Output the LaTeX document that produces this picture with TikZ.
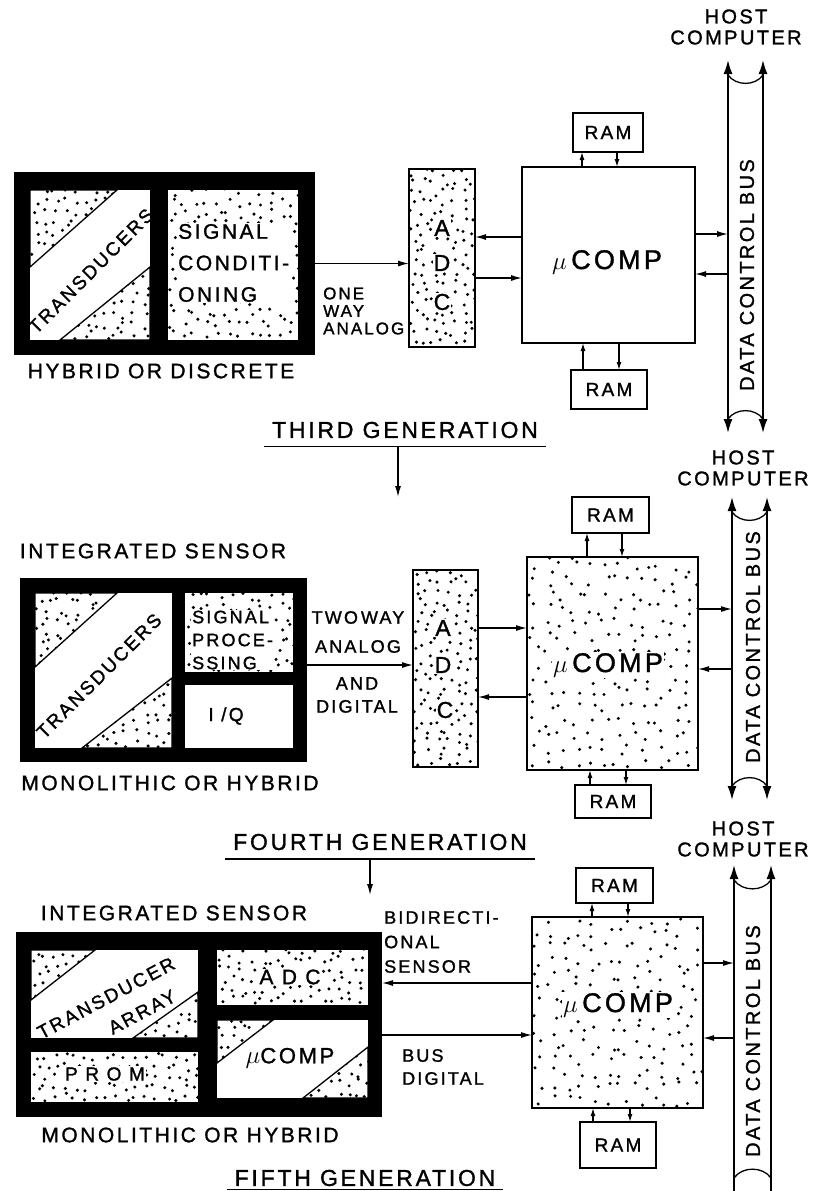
\documentclass[tikz,border=0pt]{standalone}
\usepackage{fontspec}
\usepackage{tikz}
\usetikzlibrary{arrows.meta}
\newfontfamily\lettering[LetterSpace=12,FakeBold=1.3]{Liberation Sans}
\newcommand{\speckle}[1]{%
  \pgfpointanchor{path picture bounding box}{south west}%
  \pgfgetlastxy{\spxa}{\spya}%
  \pgfpointanchor{path picture bounding box}{north east}%
  \pgfgetlastxy{\spxb}{\spyb}%
  \pgfmathtruncatemacro{\spnx}{(\spxb-\spxa)/#1}%
  \pgfmathtruncatemacro{\spny}{(\spyb-\spya)/#1}%
  \foreach \i in {0,...,\spnx}{%
    \foreach \j in {0,...,\spny}{%
      \pgfmathsetmacro{\spx}{\spxa+(\i+0.1+0.8*rnd)*#1}%
      \pgfmathsetmacro{\spy}{\spya+(\j+0.1+0.8*rnd)*#1}%
      \fill[black] (\spx pt,\spy pt) circle[radius=1.7pt];%
    }%
  }%
}
\newcommand{\bigmu}{{\fontsize{33}{33}\selectfont$\mu$}}

\begin{document}
\begin{tikzpicture}[x=1pt, y=-1pt,
  housing/.style={fill=black, inner sep=0pt, outer sep=0pt},
  cell/.style={fill=white, inner sep=0pt, outer sep=0pt},
  unit/.style={draw, line width=1.6pt, fill=white, inner sep=0pt, outer sep=0pt},
  stip/.style={path picture={\speckle{#1}}},
  tri/.style={draw, line width=1.3pt},
  lbl/.style={inner sep=1pt, align=center, font=\lettering\fontsize{21}{24}\selectfont},
  title/.style={inner xsep=8pt, inner ysep=8.5pt, font=\lettering\fontsize{23}{26}\selectfont},
  note/.style={inner sep=0pt, align=center, font=\lettering\fontsize{18}{24}\selectfont},
  tdtext/.style={inner sep=0pt, font=\lettering\fontsize{19}{20}\selectfont},
  onstip/.style={fill=white, inner sep=1pt},
  letter/.style={onstip, font=\lettering\fontsize{23}{24}\selectfont},
  comp/.style={inner sep=1pt, font=\lettering\fontsize{27}{30}\selectfont},
  ramtext/.style={font=\lettering\fontsize{19}{20}\selectfont},
  host/.style={lbl, font=\lettering\fontsize{20}{21}\selectfont},
  buslbl/.style={rotate=90, inner sep=0pt, font=\lettering\fontsize{20}{22}\selectfont},
  busbox/.style={inner sep=0pt, outer sep=0pt},
  arr/.style={-{Latex[length=11pt,width=6pt]}, line width=1.3pt},
  ramarr/.style={-{Latex[length=8pt,width=5pt]}, line width=1.3pt},
  busline/.style={{Latex[length=14pt,width=9pt]}-{Latex[length=14pt,width=9pt]}, line width=1.6pt},
  curve/.style={line width=1.3pt}
]
  \pgfmathsetseed{5}
  \useasboundingbox (0,0) rectangle (812,1191);

  % third generation
  \node[housing, minimum width=301, minimum height=183] (frame1) at (164.5,263.5) {};
  \node[cell, minimum width=120, minimum height=150] (td1) at (90,265) {};
  \node[cell, stip=11, minimum width=130, minimum height=150] (sc1) at (233,265) {};
  \draw[tri, stip=10] (30,190) -- (117,190) -- (30,267) -- cycle;
  \draw[tri, stip=10] (60,340) -- (150,267) -- (150,340) -- cycle;
  \node[tdtext, rotate=45] (td1t) at (91,271) {TRANSDUCERS};
  \node[onstip, align=left, anchor=west, font=\lettering\fontsize{21}{31.5}\selectfont] (sc1t) at (177,263) {SIGNAL\\CONDITI-\\ONING};
  \node[lbl] (hyb1) at (161,371) {HYBRID OR DISCRETE};
  \node[unit, stip=10, minimum width=66, minimum height=178] (adc1) at (442,258) {};
  \node[letter] (adc1a) at (442,228) {A};
  \node[letter] (adc1d) at (442,263) {D};
  \node[letter] (adc1c) at (442,302) {C};
  \node[unit, minimum width=173, minimum height=176] (mc1) at (608.5,255) {};
  \node[comp] (mc1t) at (607,262) {\bigmu\,COMP};
  \node[unit, ramtext, minimum width=70, minimum height=39] (ramt1) at (608,132.5) {RAM};
  \node[unit, ramtext, minimum width=76, minimum height=39] (ramb1) at (609,389.5) {RAM};
  \node[busbox, minimum width=35, minimum height=373] (bus1) at (745.5,246.5) {};
  \node[buslbl] (bus1t) at (747,275) {DATA CONTROL BUS};
  \node[host] (host1) at (736,27) {HOST\\COMPUTER};
  \node[note, align=left, anchor=west, font=\lettering\fontsize{17}{17.5}\selectfont] (ow1) at (323,311) {ONE\\WAY\\ANALOG};
  \node[title] (gen1) at (405,430) {THIRD GENERATION};
  \coordinate (g1) at (398,497);

  \draw[arr] (frame1.east) -- (frame1.east -| adc1.west);
  \draw[arr] ([yshift=18]mc1.west) -- ([yshift=18]mc1.west -| adc1.east);
  \draw[arr] ([yshift=-23]mc1.west -| adc1.east) -- ([yshift=-23]mc1.west);
  \draw[arr] ([yshift=21]mc1.east) -- ([yshift=21]mc1.east -| bus1.west);
  \draw[arr] ([yshift=-19]mc1.east -| bus1.west) -- ([yshift=-19]mc1.east);
  \draw[ramarr] ([xshift=-26]ramt1.south |- mc1.north) -- ([xshift=-26]ramt1.south);
  \draw[ramarr] ([xshift=9]ramt1.south) -- ([xshift=9]ramt1.south |- mc1.north);
  \draw[ramarr] ([xshift=-26]ramb1.north) -- ([xshift=-26]ramb1.north |- mc1.south);
  \draw[ramarr] ([xshift=10]ramb1.north |- mc1.south) -- ([xshift=10]ramb1.north);
  \draw[busline] (bus1.south west) -- (bus1.north west);
  \draw[busline] (bus1.south east) -- (bus1.north east);
  \draw[curve] ([yshift=-15]bus1.north west) to[out=-55,in=-125] ([yshift=-15]bus1.north east);
  \draw[curve] ([yshift=14]bus1.south west) to[out=55,in=125] ([yshift=14]bus1.south east);
  \draw[curve] (gen1.south west) -- (gen1.south east);
  \draw[arr] (gen1.south -| g1) -- (g1);

  % fourth generation
  \node[lbl] (int2) at (153,551) {INTEGRATED SENSOR};
  \node[housing, minimum width=287, minimum height=184] (frame2) at (163.5,670) {};
  \node[cell, minimum width=137, minimum height=155] (td2) at (103.5,670.5) {};
  \node[cell, stip=10, minimum width=108, minimum height=79] (sp2) at (239,632.5) {};
  \node[cell, minimum width=108, minimum height=63] (iq2) at (239,716.5) {};
  \draw[tri, stip=10] (35,593) -- (117,593) -- (35,667) -- cycle;
  \draw[tri, stip=10] (82,748) -- (172,678) -- (172,748) -- cycle;
  \node[tdtext, rotate=45] (td2t) at (99,676) {TRANSDUCERS};
  \node[onstip, align=left, anchor=west, font=\lettering\fontsize{18}{23}\selectfont] (sp2t) at (191,640) {SIGNAL\\PROCE-\\SSING};
  \node[tdtext] (iq2t) at (226,716) {I /Q};
  \node[lbl] (mono2) at (170,783) {MONOLITHIC OR HYBRID};
  \node[unit, stip=10, minimum width=65, minimum height=197] (adc2) at (445.5,668.5) {};
  \node[letter] (adc2a) at (443,628) {A};
  \node[letter] (adc2d) at (443,665) {D};
  \node[letter] (adc2c) at (445,710) {C};
  \node[unit, stip=14, minimum width=171, minimum height=213] (mc2) at (612.5,663.5) {};
  \node[comp, onstip] (mc2t) at (608,665) {\bigmu\,COMP};
  \node[unit, ramtext, minimum width=77, minimum height=36] (ramt2) at (610.5,515) {RAM};
  \node[unit, ramtext, minimum width=76, minimum height=33] (ramb2) at (613,801.5) {RAM};
  \node[busbox, minimum width=35, minimum height=303] (bus2) at (749.5,648.5) {};
  \node[buslbl] (bus2t) at (753,647) {DATA CONTROL BUS};
  \node[host] (host2) at (743,468) {HOST\\COMPUTER};
  \node[note, font=\lettering\fontsize{18}{29}\selectfont] (tw2) at (358,632) {TWO\,WAY\\ANALOG};
  \node[note, font=\lettering\fontsize{18}{23}\selectfont] (ad2) at (357,695) {AND\\DIGITAL};
  \node[title] (gen2) at (380,842) {FOURTH GENERATION};
  \coordinate (g2) at (370,895);

  \draw[arr] ([yshift=5]frame2.east) -- ([yshift=5]frame2.east -| adc2.west);
  \draw[arr] ([yshift=35.5]mc2.west -| adc2.east) -- ([yshift=35.5]mc2.west);
  \draw[arr] ([yshift=-33.5]mc2.west) -- ([yshift=-33.5]mc2.west -| adc2.east);
  \draw[arr] ([yshift=54.5]mc2.east) -- ([yshift=54.5]mc2.east -| bus2.west);
  \draw[arr] ([yshift=-5.5]mc2.east -| bus2.west) -- ([yshift=-5.5]mc2.east);
  \draw[ramarr] ([xshift=-23.5]ramt2.south |- mc2.north) -- ([xshift=-23.5]ramt2.south);
  \draw[ramarr] ([xshift=11.5]ramt2.south) -- ([xshift=11.5]ramt2.south |- mc2.north);
  \draw[ramarr] ([xshift=-23]ramb2.north) -- ([xshift=-23]ramb2.north |- mc2.south);
  \draw[ramarr] ([xshift=13]ramb2.north |- mc2.south) -- ([xshift=13]ramb2.north);
  \draw[busline] (bus2.south west) -- (bus2.north west);
  \draw[busline] (bus2.south east) -- (bus2.north east);
  \draw[curve] ([yshift=-15]bus2.north west) to[out=-55,in=-125] ([yshift=-15]bus2.north east);
  \draw[curve] ([yshift=14]bus2.south west) to[out=55,in=125] ([yshift=14]bus2.south east);
  \draw[curve] (gen2.south west) -- (gen2.south east);
  \draw[arr] (gen2.south -| g2) -- (g2);

  % fifth generation
  \node[lbl] (int3) at (174,913) {INTEGRATED SENSOR};
  \node[housing, minimum width=366, minimum height=185] (frame3) at (199,1024.5) {};
  \node[cell, minimum width=167, minimum height=88] (ta3) at (114.5,994) {};
  \node[cell, stip=10, minimum width=167, minimum height=50] (prom3) at (114.5,1077) {};
  \node[cell, stip=10, minimum width=151, minimum height=55] (adc3) at (292.5,977.5) {};
  \node[cell, minimum width=151, minimum height=78] (mcc3) at (292.5,1059) {};
  \draw[tri, stip=10] (31,950) -- (95,950) -- (31,1000) -- cycle;
  \draw[tri, stip=10] (133,1038) -- (198,992) -- (198,1038) -- cycle;
  \draw[tri, stip=10] (217,1020) -- (273,1020) -- (217,1063) -- cycle;
  \draw[tri, stip=10] (303,1098) -- (368,1047) -- (368,1098) -- cycle;
  \node[tdtext, rotate=28] (ta3t) at (106,998) {TRANSDUCER};
  \node[tdtext, rotate=28] (ta3u) at (142,1012) {ARRAY};
  \node[tdtext, onstip] (prom3t) at (105,1074) {P R O M};
  \node[tdtext, onstip, font=\lettering\fontsize{21}{22}\selectfont] (adc3t) at (290,977) {A D C};
  \node[tdtext, font=\lettering\fontsize{22}{24}\selectfont] (mcc3t) at (290,1058) {\bigmu COMP};
  \node[lbl] (mono3) at (190,1135) {MONOLITHIC OR HYBRID};
  \node[unit, stip=14, minimum width=171, minimum height=191] (mc3) at (617.5,1012.5) {};
  \node[comp, onstip] (mc3t) at (618,1005) {\bigmu\,COMP};
  \node[unit, ramtext, minimum width=77, minimum height=35] (ramt3) at (614.5,885.5) {RAM};
  \node[unit, ramtext, minimum width=76, minimum height=46] (ramb3) at (618,1145) {RAM};
  \node[busbox, minimum width=37, minimum height=340] (bus3) at (752.5,1035) {};
  \node[buslbl] (bus3t) at (753,1041) {DATA CONTROL BUS};
  \node[host] (host3) at (743,839) {HOST\\COMPUTER};
  \node[note, align=left, anchor=west, font=\lettering\fontsize{18}{24.5}\selectfont] (bd3) at (384,942) {BIDIRECTI-\\ONAL\\SENSOR};
  \node[note, align=left, anchor=west, font=\lettering\fontsize{18}{23}\selectfont] (bg3) at (402,1067) {BUS\\DIGITAL};
  \node[title, inner ysep=3pt] (gen3) at (365,1178) {FIFTH GENERATION};

  \draw[arr] ([yshift=29.5]mc3.west) -- ([yshift=29.5]mc3.west -| frame3.east);
  \draw[arr] ([yshift=-22.5]mc3.west -| frame3.east) -- ([yshift=-22.5]mc3.west);
  \draw[arr] ([yshift=49.5]mc3.east) -- ([yshift=49.5]mc3.east -| bus3.west);
  \draw[arr] ([yshift=-25.5]mc3.east -| bus3.west) -- ([yshift=-25.5]mc3.east);
  \draw[ramarr] ([xshift=-22.5]ramt3.south |- mc3.north) -- ([xshift=-22.5]ramt3.south);
  \draw[ramarr] ([xshift=13.5]ramt3.south) -- ([xshift=13.5]ramt3.south |- mc3.north);
  \draw[ramarr] ([xshift=-25]ramb3.north) -- ([xshift=-25]ramb3.north |- mc3.south);
  \draw[ramarr] ([xshift=12]ramb3.north |- mc3.south) -- ([xshift=12]ramb3.north);
  \draw[busline] (bus3.south west) -- (bus3.north west);
  \draw[busline] (bus3.south east) -- (bus3.north east);
  \draw[curve] ([yshift=-15]bus3.north west) to[out=-55,in=-125] ([yshift=-15]bus3.north east);
  \draw[curve] ([yshift=27]bus3.south west) to[out=55,in=125] ([yshift=27]bus3.south east);
  \draw[curve] (gen3.south west) -- (gen3.south east);
\end{tikzpicture}
\end{document}
